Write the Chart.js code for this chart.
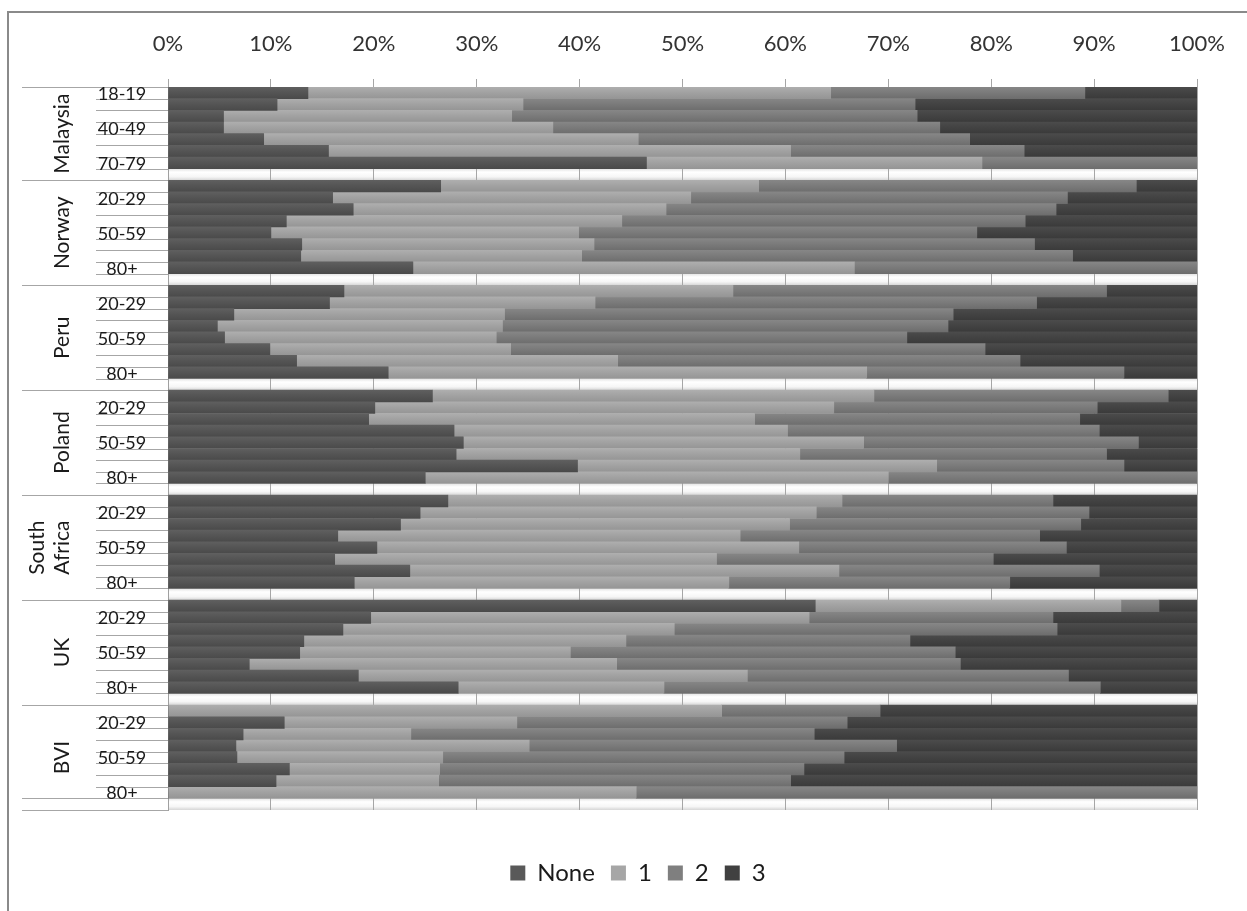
<!DOCTYPE html>
<html>
<head>
<meta charset="utf-8">
<script src="https://cdn.jsdelivr.net/npm/chart.js@4.4.1/dist/chart.umd.min.js"></script>
<style>
  html, body { margin: 0; padding: 0; background: #fff; }
  #wrap { position: relative; width: 1247px; height: 911px; }
</style>
</head>
<body>
<div id="wrap"><canvas id="ageChart"></canvas></div>
<script>
// countries and age groups (Malaysia has no 80+ group)
const countries = ["Malaysia", "Norway", "Peru", "Poland", "South Africa", "UK", "BVI"];
const agesShort = ["18-19", "20-29", "30-39", "40-49", "50-59", "60-69", "70-79"];
const agesFull = ["18-19", "20-29", "30-39", "40-49", "50-59", "60-69", "70-79", "80+"];
const seriesNames = ["None", "1", "2", "3"];

// percent of each age group, one row per country
const noneVals = [
    [13.6, 10.6, 5.4, 5.4, 9.3, 15.6, 46.5],
    [26.5, 16.0, 18.0, 11.5, 10.0, 13.0, 12.9, 23.8],
    [17.1, 15.7, 6.4, 4.8, 5.5, 9.9, 12.5, 21.4],
    [25.7, 20.1, 19.5, 27.8, 28.7, 28.0, 39.8, 25.0],
    [27.2, 24.5, 22.6, 16.5, 20.3, 16.2, 23.5, 18.1],
    [62.9, 19.7, 17.0, 13.2, 12.8, 7.9, 18.5, 28.2],
    [0, 11.3, 7.3, 6.6, 6.7, 11.8, 10.5, 0],
];
const oneVals = [
    [50.8, 23.9, 28.0, 32.0, 36.4, 44.9, 32.6],
    [30.9, 34.8, 30.4, 32.6, 29.9, 28.4, 27.3, 42.9],
    [37.8, 25.8, 26.3, 27.7, 26.4, 23.4, 31.2, 46.5],
    [42.9, 44.6, 37.5, 32.4, 38.9, 33.4, 34.9, 45.0],
    [38.3, 38.5, 37.8, 39.1, 41.0, 37.1, 41.7, 36.4],
    [29.7, 42.6, 32.2, 31.3, 26.3, 35.7, 37.8, 20.0],
    [53.8, 22.6, 16.3, 28.5, 20.0, 14.6, 15.8, 45.5],
];
const twoVals = [
    [24.7, 38.1, 39.4, 37.6, 32.2, 22.7, 20.9],
    [36.7, 36.6, 37.9, 39.2, 38.7, 42.8, 47.7, 33.3],
    [36.3, 42.9, 43.6, 43.3, 39.9, 46.1, 39.1, 25.0],
    [28.6, 25.6, 31.6, 30.3, 26.7, 29.8, 18.2, 30.0],
    [20.5, 26.5, 28.3, 29.1, 26.0, 26.9, 25.3, 27.3],
    [3.7, 23.7, 37.2, 27.6, 37.4, 33.4, 31.2, 42.4],
    [15.4, 32.1, 39.2, 35.7, 39.0, 35.4, 34.2, 54.5],
];
const threeVals = [
    [10.9, 27.4, 27.2, 25.0, 22.1, 16.8, 0],
    [5.9, 12.6, 13.7, 16.7, 21.4, 15.8, 12.1, 0],
    [8.8, 15.6, 23.7, 24.2, 28.2, 20.6, 17.2, 7.1],
    [2.8, 9.7, 11.4, 9.5, 5.7, 8.8, 7.1, 0],
    [14.0, 10.5, 11.3, 15.3, 12.7, 19.8, 9.5, 18.2],
    [3.7, 14.0, 13.6, 27.9, 23.5, 23.0, 12.5, 9.4],
    [30.8, 34.0, 37.2, 29.2, 34.3, 38.2, 39.5, 0],
];
const xTicks = [0, 10, 20, 30, 40, 50, 60, 70, 80, 90, 100];

const legendColors = ["#595959", "#a6a6a6", "#7f7f7f", "#404040"];
const topColors = ["#5f5f5f", "#aeaeae", "#868686", "#4b4b4b"];
const midColors = ["#555555", "#a2a2a2", "#7b7b7b", "#434343"];
const botColors = ["#4a4a4a", "#959595", "#6d6d6d", "#3a3a3a"];

// flatten: one blank slot after every country
const labels = [];
const groupStart = [];
countries.forEach((c, ci) => {
    groupStart.push(labels.length);
    const ages = ci === 0 ? agesShort : agesFull;
    ages.forEach(a => labels.push(a));
    labels.push("");
});
function flat(rows) {
    const out = [];
    rows.forEach(r => { r.forEach(v => out.push(v)); out.push(null); });
    return out;
}
const allSeries = [noneVals, oneVals, twoVals, threeVals].map(flat);

function barFill(i) {
    return function (c) {
        const chart = c.chart;
        const y = chart.scales.y;
        if (!chart.chartArea || !y || c.type !== "data") return midColors[i];
        const mid = y.getPixelForValue(c.dataIndex);
        const half = Math.abs(y.getPixelForValue(1) - y.getPixelForValue(0)) / 2;
        if (!isFinite(mid) || !isFinite(half) || half === 0) return midColors[i];
        const g = chart.ctx.createLinearGradient(0, mid - half, 0, mid + half);
        g.addColorStop(0, topColors[i]);
        g.addColorStop(0.45, midColors[i]);
        g.addColorStop(1, botColors[i]);
        return g;
    };
}

// frame, soft shading in the empty rows, two-level category labels
const sideLabels = {
    id: "sideLabels",
    beforeDraw(chart) {
        const { ctx, chartArea, scales: { y } } = chart;
        ctx.save();
        ctx.strokeStyle = "#8a8a8a";
        ctx.lineWidth = 2;
        ctx.beginPath();
        ctx.moveTo(8, chart.height);
        ctx.lineTo(8, 12);
        ctx.lineTo(chart.width, 12);
        ctx.stroke();
        if (chartArea && y) {
            const step = y.getPixelForValue(1) - y.getPixelForValue(0);
            labels.forEach((lab, i) => {
                if (lab) return;
                const t = y.getPixelForValue(i) - step / 2;
                const g = ctx.createLinearGradient(0, t, 0, t + step);
                g.addColorStop(0, "#e2e2e2");
                g.addColorStop(0.3, "#ffffff");
                g.addColorStop(0.7, "#f6f6f6");
                g.addColorStop(1, "#d6d6d6");
                ctx.fillStyle = g;
                ctx.fillRect(chartArea.left, t, chartArea.right - chartArea.left, step);
            });
        }
        ctx.restore();
    },
    afterDraw(chart) {
        const { ctx, chartArea, scales: { y } } = chart;
        const left = chartArea.left;
        const step = y.getPixelForValue(1) - y.getPixelForValue(0);
        const n = labels.length;
        ctx.save();
        ctx.strokeStyle = "#a6a6a6";
        ctx.lineWidth = 1;
        for (let b = 0; b <= n; b++) {
            const yy = Math.round(y.getPixelForValue(b) - step / 2) + 0.5;
            const isLong = groupStart.includes(b) || b >= n - 1;
            ctx.beginPath();
            ctx.moveTo(isLong ? left - 146 : left - 72, yy);
            ctx.lineTo(left, yy);
            ctx.stroke();
        }
        ctx.fillStyle = "#1a1a1a";
        ctx.textAlign = "center";
        ctx.textBaseline = "middle";
        ctx.font = "18px Lato";
        labels.forEach((lab, i) => {
            if (i % 3 !== 0 || !lab) return;
            ctx.fillText(lab, left - 46, y.getPixelForValue(i) + 1);
        });
        ctx.font = "21px Lato";
        countries.forEach((c, ci) => {
            const first = groupStart[ci];
            const last = ci + 1 < countries.length ? groupStart[ci + 1] - 1 : n - 1;
            const yc = (y.getPixelForValue(first) + y.getPixelForValue(last)) / 2;
            const lines = c === "South Africa" ? ["South", "Africa"] : [c];
            const xc = lines.length > 1 ? left - 118 : left - 106;
            ctx.save();
            ctx.translate(xc, yc);
            ctx.rotate(-Math.PI / 2);
            lines.forEach((t, k) => ctx.fillText(t, 0, (k - (lines.length - 1) / 2) * 25));
            ctx.restore();
        });
        ctx.restore();
    },
};

const ctx = document.getElementById("ageChart").getContext("2d");
new Chart(ctx, {
    type: "bar",
    data: {
        labels: labels,
        datasets: seriesNames.map((name, i) => ({
            label: name,
            data: allSeries[i],
            backgroundColor: barFill(i),
            borderWidth: 0,
            barPercentage: 1,
            categoryPercentage: 1,
        })),
    },
    options: {
        indexAxis: "y",
        responsive: true,
        maintainAspectRatio: false,
        animation: false,
        layout: { padding: { top: 12, left: 77, right: 48, bottom: 16 } },
        plugins: {
            tooltip: { enabled: false },
            legend: {
                position: "bottom",
                title: { display: true, text: "", font: { size: 10, lineHeight: 1 }, padding: { top: 25, bottom: 0 } },
                labels: {
                    font: { family: "Lato", size: 24 },
                    color: "#1a1a1a",
                    boxWidth: 15,
                    boxHeight: 15,
                    padding: 16,
                    generateLabels: chart => seriesNames.map((name, i) => ({
                        text: name,
                        fillStyle: legendColors[i],
                        strokeStyle: legendColors[i],
                        lineWidth: 0,
                        hidden: false,
                        datasetIndex: i,
                        fontColor: "#1a1a1a",
                    })),
                },
            },
        },
        scales: {
            x: {
                position: "top",
                stacked: true,
                min: 0,
                max: 100,
                afterBuildTicks: s => { s.ticks = xTicks.map(v => ({ value: v })); },
                afterFit: s => { s.height = 75; },
                ticks: {
                    callback: v => v + "%",
                    font: { family: "Lato", size: 22 },
                    color: "#333",
                    padding: 22,
                    maxRotation: 0,
                },
                grid: { color: "#a6a6a6", tickLength: 8, drawTicks: true },
                border: { display: false },
            },
            y: {
                stacked: true,
                afterFit: s => { s.width = 91; },
                ticks: { display: false },
                grid: { display: false },
                border: { display: true, color: "#a0a0a0" },
            },
        },
    },
    plugins: [sideLabels],
});
</script>
</body>
</html>
